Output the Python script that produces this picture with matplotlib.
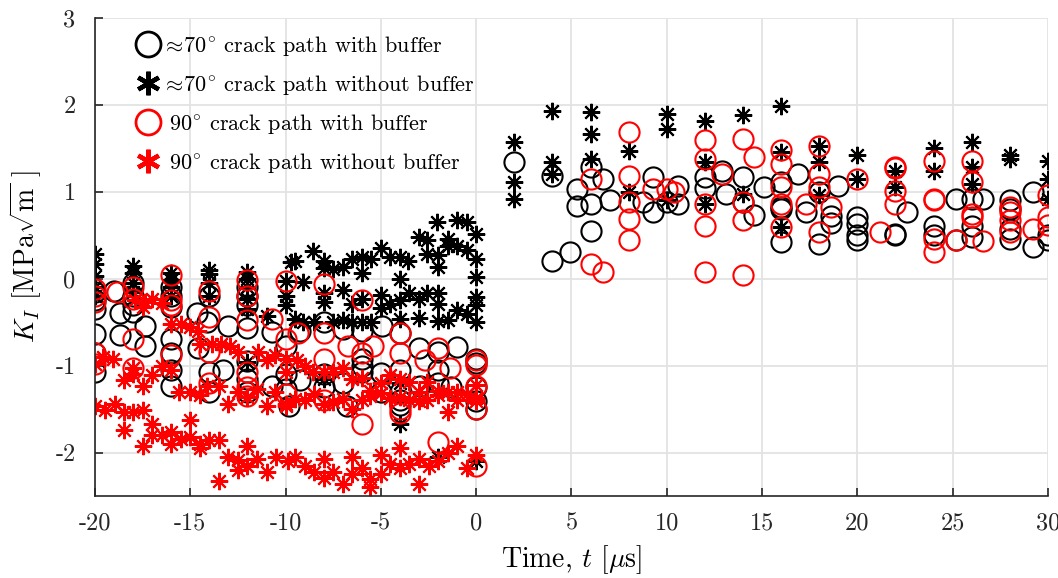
import matplotlib
matplotlib.use("Agg")
import matplotlib.pyplot as plt
from matplotlib.lines import Line2D

plt.rcParams["font.family"] = ["cmr10", "DejaVu Serif"]
plt.rcParams["mathtext.fontset"] = "cm"
plt.rcParams["axes.unicode_minus"] = False
plt.rcParams["axes.formatter.use_mathtext"] = True

# ~70 deg crack path, with buffer (time in us, K_I in MPa sqrt(m))
t_70_buf = [-20, -20, -20, -20, -20, -20, -19, -18.7, -18.7, -18, -18, -18, -18,
            -17.4, -17.4, -16, -16, -16, -16, -16, -16, -16, -14.65, -14.1, -14.6,
            -14, -14, -14, -13.3, -13, -12, -12, -12, -12, -12, -12, -12, -10.7,
            -10.7, -10, -10, -10, -9.25, -9.25, -9.8, -8, -8, -8, -7, -7, -6, -6,
            -6, -6, -6.8, -4.95, -5, -5, -4, -4, -4, -4, -4, -3, -2.95, -2, -2,
            -2, -1, -1.3, 0, 0, 0, 0, 0,
            2, 4, 4, 4.9, 5.3, 5.3, 6, 6, 6, 6.65, 7, 8.75, 9.3, 9.3, 10, 10.6,
            10.6, 12, 12, 12.9, 13.1, 14, 14, 14.6, 15.1, 16, 16, 16, 16, 16.9,
            17.3, 18, 18, 18.6, 18.6, 19, 20, 20, 20, 20, 22, 22, 22.6, 24, 24,
            25.2, 25.2, 26, 26, 26, 26.6, 28, 28, 28, 28, 29.2, 29.2, 30, 30]
k_70_buf = [-0.15, -0.25, -0.35, -0.64, -0.85, -1.07, -0.14, -0.4, -0.65, -0.05,
            -0.2, -0.3, -0.38, -0.54, -0.78, -0.1, -0.2, -0.32, -0.69, -0.86,
            -1.05, -1.23, -0.4, -0.5, -0.8, -0.2, -1.07, -1.3, -1.05, -0.54, -0.1,
            -0.2, -0.3, -0.57, -0.95, -1.15, -1.3, -0.61, -1.23, -0.77, -1.27,
            -1.1, -0.6, -1.16, -1.47, -0.5, -1.1, -1.25, -0.58, -1.2, -0.6, -0.92,
            -1.0, -1.07, -1.46, -0.54, -1.08, -1.3, -0.62, -1.05, -1.3, -1.4,
            -1.45, -0.8, -1.23, -0.84, -1.05, -1.2, -0.79, -1.25, -0.92, -0.97,
            -1.25, -1.41, -1.5,
            1.34, 1.18, 0.2, 0.31, 1.03, 0.84, 0.86, 0.55, 1.29, 1.15, 0.9, 0.88,
            1.17, 0.77, 0.88, 1.07, 0.86, 1.17, 1.04, 1.24, 0.97, 1.17, 0.88,
            0.73, 1.05, 1.11, 0.83, 0.8, 0.42, 1.2, 0.77, 1.0, 0.4, 0.72, 0.64,
            1.07, 0.71, 0.63, 0.5, 0.44, 0.52, 0.5, 0.77, 0.61, 0.5, 0.92, 0.44,
            0.92, 0.61, 0.48, 0.92, 0.9, 0.8, 0.57, 0.46, 1.0, 0.37, 0.5, 0.44]

# ~70 deg crack path, without buffer
t_70_nobuf = [-20, -20, -20, -20, -20, -18, -18, -18, -18, -16, -16, -16, -16,
              -14, -14, -14, -14, -12, -12, -12, -12, -12, -12, -11, -10, -10,
              -10, -9.7, -9.5, -9.1, -9.1, -9.5, -8.56, -8, -8, -8, -8, -8.5, -8,
              -7.5, -7.5, -7, -7, -7, -6.5, -6.5, -6.5, -6, -6, -6, -6, -5.5,
              -5.5, -5, -5, -5, -4.5, -4.5, -4, -4, -4, -4, -4, -4, -3.6, -3.5,
              -3, -3, -3, -2.6, -2.6, -2.6, -2.05, -2, -2, -2, -2, -2, -1.5,
              -1.5, -1.5, -1, -1, -1, -0.5, -0.5, -0.5, 0, 0, 0, 0, 0, 0, -2, 0,
              2, 2, 2, 4, 4, 4, 6, 6, 6, 8, 8, 10, 10, 10, 12, 12, 12, 14, 14,
              16, 16, 16, 18, 18, 18, 20, 20, 22, 22, 24, 24, 26, 26, 26, 28, 28,
              30, 30, 30]
k_70_nobuf = [0.29, 0.17, 0.03, -0.1, -0.2, 0.15, 0.06, -0.05, -0.15, 0.06,
              -0.02, -0.1, -0.2, 0.1, 0.05, -0.05, -0.2, 0.08, 0.0, -0.1, -0.23,
              -0.35, -0.96, -0.43, -0.03, -0.2, -0.3, 0.19, 0.2, -0.04, -0.5,
              -0.46, 0.32, 0.2, 0.12, -0.17, -0.27, -0.5, -1.15, 0.11, -0.5, 0.14,
              -0.13, -0.47, 0.23, -0.29, -0.5, 0.25, 0.06, -0.23, -0.5, 0.23,
              -0.5, 0.35, -0.19, -0.34, 0.25, -0.29, 0.25, 0.0, -0.25, -0.46,
              -1.2, -1.67, 0.2, -0.17, 0.48, -0.23, -0.45, 0.44, 0.28, -0.17,
              0.65, 0.27, 0.14, -0.17, -0.29, -0.49, 0.46, 0.38, -0.47, 0.67,
              0.38, -0.36, 0.65, 0.33, -0.41, 0.52, 0.23, 0.02, -0.21, -0.3,
              -0.5, -2.05, -2.1,
              1.57, 1.11, 0.92, 1.93, 1.34, 1.2, 1.92, 1.67, 1.38, 1.47, 1.0,
              1.9, 1.72, 0.9, 1.82, 1.34, 0.86, 1.88, 0.98, 1.99, 1.46, 0.6, 1.53,
              1.34, 0.96, 1.42, 1.15, 1.24, 1.06, 1.5, 1.24, 1.57, 1.29, 1.09,
              1.42, 1.38, 1.36, 1.15, 0.92]

# 90 deg crack path, with buffer
t_90_buf = [-20, -20, -20, -20, -20, -18.85, -18, -18, -18, -18, -16, -16, -16,
            -16, -14, -14, -14, -14, -12, -12, -12, -12, -12, -12, -10.7, -10,
            -10, -10, -9.35, -8, -8, -8, -8, -6.7, -6, -6, -6, -5.4, -4, -4, -4,
            -4, -2.7, -2, -2, -1.4, 0, 0, 0, 0, 0,
            6, 6, 6.65, 8, 8, 8, 8, 8, 9.3, 10, 10.4, 12, 12, 12, 12, 12, 12.9,
            14, 14, 14, 14, 14.6, 16, 16, 16, 16, 16, 17.3, 18, 18, 18, 18,
            18.6, 20, 21.2, 22, 22, 22, 22, 24, 24, 24, 24, 24, 25.2, 26, 26,
            26, 26, 26.6, 28, 28, 28, 28, 29.2, 30, 30, 30]
k_90_buf = [-0.12, -0.2, -0.27, -0.86, -0.98, -0.15, -0.09, -0.23, -0.69, -1.03,
            0.04, -0.25, -0.3, -0.88, -0.14, -0.44, -0.84, -1.2, -0.02, -0.2,
            -0.48, -1.07, -1.25, -1.35, -0.46, -0.03, -0.69, -1.33, -0.63, -0.06,
            -0.62, -0.92, -1.4, -0.77, -0.25, -0.85, -1.67, -0.77, -0.62, -0.85,
            -1.5, -1.55, -0.94, -0.8, -1.88, -1.03, -0.94, -0.99, -1.24, -1.5,
            -2.16,
            1.15, 0.17, 0.08, 1.69, 1.18, 0.88, 0.69, 0.44, 1.03, 1.03, 1.0, 1.6,
            1.38, 0.86, 0.61, 0.08, 1.2, 1.61, 0.88, 0.67, 0.04, 1.4, 1.48, 1.32,
            1.06, 0.86, 0.6, 0.86, 1.53, 1.2, 1.05, 0.54, 0.83, 1.15, 0.54, 1.29,
            1.27, 1.01, 0.86, 1.36, 0.92, 0.9, 0.46, 0.31, 0.45, 1.36, 1.11,
            0.75, 0.71, 0.43, 0.82, 0.77, 0.68, 0.54, 0.57, 0.96, 0.71, 0.62]

# 90 deg crack path, without buffer
t_90_nobuf = [-20, -19.6, -19.05, -18.5, -18, -18, -17.5, -17, -16.5, -16,
              -15.6, -15, -14.5, -14.1, -13.5, -13, -12.5, -12, -11.5, -11,
              -10.55, -10,
              -17.9, -17.4, -17, -17.5, -16.5, -16, -15.5, -15, -14.6, -14.5,
              -13.85, -13.4, -12.9, -12.5, -11.45, -11, -10.55, -10,
              -10, -9.4, -9, -8.56, -8, -7.5, -7, -6.5, -6, -5.55, -5, -4.5, -4,
              -3.5, -3, -2.6, -2, -1.5, -1, -0.5, 0,
              -10, -9.5, -9, -8.5, -8, -7.5, -7, -6.5, -6, -5.55, -5, -4.5, -4,
              -3.5, -3, -2.6, -2, -1.5, -1, -0.5, 0, 0,
              -20, -19.5, -18.95, -18.5, -18.5, -18, -17.5, -17.5, -17, -17,
              -16.5, -16, -16, -15.5, -15, -15, -14.5, -14.5, -14, -13.5, -13,
              -13.5, -12.5, -12.5, -12, -12, -11.5, -11, -10.5, -9.9,
              -9.5, -9, -8.5, -8, -8, -7.5, -7, -6.5, -6.5, -6, -5.55, -5.55, -5,
              -5, -4.5, -4, -4, -3.5, -3, -3, -2.5, -2, -1.5, -1, -0.5, 0]
k_90_nobuf = [-0.98, -0.9, -0.92, -1.17, -1.03, -1.1, -1.23, -1.11, -1.0,
              -1.05, -1.3, -1.3, -1.34, -1.24, -1.23, -1.44, -1.3, -1.36, -1.27,
              -1.46, -1.3, -1.44,
              -0.25, -0.27, -0.23, -0.33, -0.28, -0.52, -0.52, -0.55, -0.6,
              -0.75, -0.75, -0.75, -0.78, -0.84, -0.84, -0.94, -0.88, -1.07,
              -0.92, -0.94, -1.0, -1.07, -1.07, -1.07, -1.03, -1.15, -1.14,
              -1.29, -1.2, -1.11, -1.15, -1.19, -1.3, -1.19, -1.34, -1.3, -1.3,
              -1.33, -1.37,
              -1.46, -1.38, -1.4, -1.33, -1.44, -1.42, -1.38, -1.5, -1.4, -1.35,
              -1.32, -1.37, -1.36, -1.4, -1.41, -1.4, -1.29, -1.53, -1.4, -1.33,
              -1.41, -1.22,
              -1.46, -1.51, -1.44, -1.53, -1.74, -1.53, -1.51, -1.92, -1.67,
              -1.8, -1.8, -1.76, -1.9, -1.84, -1.63, -1.82, -1.9, -1.95, -1.86,
              -1.86, -2.05, -2.33, -2.09, -2.2, -1.92, -2.15, -2.07, -2.22, -2.05,
              -2.1,
              -2.05, -2.15, -2.22, -2.07, -2.29, -2.22, -2.36, -2.05, -2.25,
              -2.18, -2.3, -2.4, -2.03, -2.25, -2.13, -1.95, -2.18, -2.13, -2.07,
              -2.36, -2.15, -2.1, -2.01, -1.93, -2.18, -2.03]

x_ticks = [-20, -15, -10, -5, 0, 5, 10, 15, 20, 25, 30]
y_ticks = [-2, -1, 0, 1, 2, 3]

series_labels = [r"$\approx\!70^{\circ}$ crack path with buffer",
                 r"$\approx\!70^{\circ}$ crack path without buffer",
                 r" $90^{\circ}$ crack path with buffer",
                 r" $90^{\circ}$ crack path without buffer"]

ASTERISK = (8, 2, 0)

fig = plt.figure(figsize=(10.58, 5.78), dpi=100)
ax = fig.add_axes([0.0898, 0.1419, 0.9007, 0.8270])

circ_kw = dict(linestyle="none", marker="o", markersize=14.5,
               markerfacecolor="none", markeredgewidth=1.5)
ast_kw = dict(linestyle="none", marker=ASTERISK, markersize=12.5,
              markeredgewidth=1.5)

ax.plot(t_70_buf, k_70_buf, color="black", markeredgecolor="black", **circ_kw)
ax.plot(t_70_nobuf, k_70_nobuf, color="black", markeredgecolor="black", **ast_kw)
ax.plot(t_90_buf, k_90_buf, color="red", markeredgecolor="red", **circ_kw)
ax.plot(t_90_nobuf, k_90_nobuf, color="red", markeredgecolor="red", **ast_kw)

ax.set_xlim(-20, 30)
ax.set_ylim(-2.5, 3)
ax.set_xticks(x_ticks)
ax.set_yticks(y_ticks)
ax.set_xticklabels([str(v) for v in x_ticks])
ax.set_yticklabels([str(v) for v in y_ticks])
ax.tick_params(direction="in", length=6, width=1.2, labelsize=17.5,
               colors="#262626", top=False, right=False)
ax.tick_params(axis="x", pad=12)
ax.tick_params(axis="y", pad=14)
ax.grid(True, color="#e3e3e3", linewidth=1.3)
ax.set_axisbelow(True)
for side in ("top", "right"):
    ax.spines[side].set_visible(False)
for side in ("left", "bottom"):
    ax.spines[side].set_color("#262626")
    ax.spines[side].set_linewidth(1.2)

ax.set_xlabel(r"Time, $t$ [$\mu$s]", fontsize=20, labelpad=6)
ax.set_ylabel(r"$K_I$ [MPa$\sqrt{\mathrm{m}}\ $]", fontsize=20, labelpad=8)

handles = [
    Line2D([], [], linestyle="none", marker="o", markersize=18,
           markerfacecolor="none", markeredgecolor="black", markeredgewidth=2),
    Line2D([], [], linestyle="none", marker=(6, 2, 0), markersize=17,
           markeredgecolor="black", markeredgewidth=3.2),
    Line2D([], [], linestyle="none", marker="o", markersize=18,
           markerfacecolor="none", markeredgecolor="red", markeredgewidth=2),
    Line2D([], [], linestyle="none", marker=(6, 2, 0), markersize=17,
           markeredgecolor="red", markeredgewidth=3.2),
]
ax.legend(handles, series_labels, loc="upper left", frameon=False,
          fontsize=16, labelspacing=0.68, handletextpad=0.05,
          handlelength=1.2, borderaxespad=0.3, bbox_to_anchor=(0.025, 1.0))

fig.savefig("out.png", dpi=100)
